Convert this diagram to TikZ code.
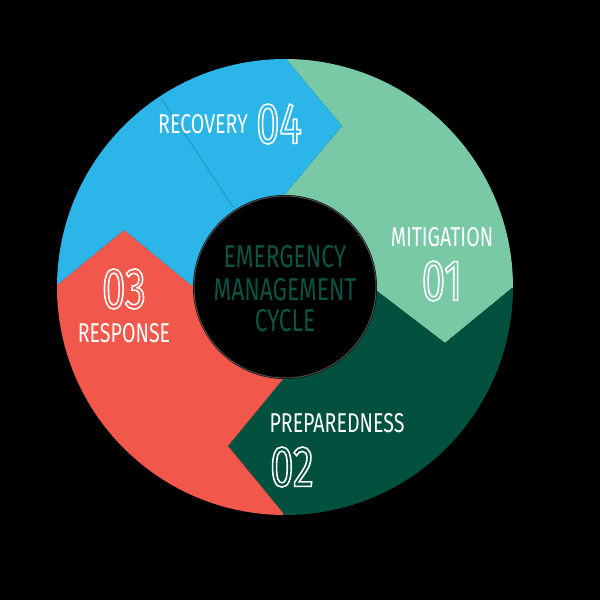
\documentclass[tikz,border=0pt]{standalone}
\usepackage{fontspec}
\setmainfont[FakeStretch=0.72]{Fira Sans}
\definecolor{mitig}{HTML}{79C9A7}
\definecolor{prep}{HTML}{02513F}
\definecolor{resp}{HTML}{F2574B}
\definecolor{recov}{HTML}{2BB5E8}
\definecolor{hubtext}{HTML}{0B5343}
\newcommand{\outl}[1]{\special{pdf:literal direct 1 Tr 0.9 w}#1\special{pdf:literal direct 0 Tr}}
\begin{document}
\begin{tikzpicture}[x=0.02cm, y=-0.02cm,
    label/.style={text=white, font=\fontsize{15.5}{16}\selectfont, inner sep=0pt},
    num/.style={text=white, font=\fontsize{33}{34}\selectfont, inner sep=0pt},
    hub/.style={text=hubtext, font=\fontsize{18}{19}\selectfont, inner sep=0pt}
  ]
  \fill[black] (0,0) rectangle (600,600);
  \useasboundingbox (0,0) rectangle (600,600);
  \begin{scope}
    \clip (285,287) circle (228);
    % four arrow segments
    \fill[mitig] (286,59) -- (286,0) -- (600,0) -- (600,288) -- (512,288) -- (445,343)
      -- (377,291) -- (285,287) -- (286,193) -- (342,126) -- cycle;
    \fill[prep] (512,288) -- (600,288) -- (600,600) -- (283,600) -- (283,513) -- (228,446)
      -- (283,379) -- (285,287) -- (377,291) -- (445,343) -- cycle;
    \fill[resp] (283,513) -- (283,600) -- (0,600) -- (0,285) -- (57,285) -- (124,230)
      -- (191,285) -- (285,287) -- (283,379) -- (228,446) -- cycle;
    \fill[recov] (57,285) -- (0,285) -- (0,0) -- (286,0) -- (286,59) -- (342,126)
      -- (286,193) -- (285,287) -- (191,285) -- (124,230) -- cycle;
    \draw[recov!80!black, line width=0.4pt] (161,98) -- (233,207);
  \end{scope}
  \fill[black] (285,287) circle (92);
  \draw[black!70, line width=0.6pt] (285,287) circle (91);
  % labels
  \node[label] (recovery) at (203,124) {RECOVERY};
  \node[num] (n4) at (279,124) {\outl{04}};
  \node[label] (mitigation) at (442,237) {MITIGATION};
  \node[num] (n1) at (442,281) {\outl{01}};
  \node[label] (preparedness) at (337,423) {PREPAREDNESS};
  \node[num] (n2) at (292,467) {\outl{02}};
  \node[num] (n3) at (124,289) {\outl{03}};
  \node[label] (response) at (124,333) {RESPONSE};
  \node[hub] (emerg) at (285,257) {EMERGENCY};
  \node[hub] (manage) at (285,290) {MANAGEMENT};
  \node[hub] (cycle) at (285,321) {CYCLE};
\end{tikzpicture}
\end{document}
